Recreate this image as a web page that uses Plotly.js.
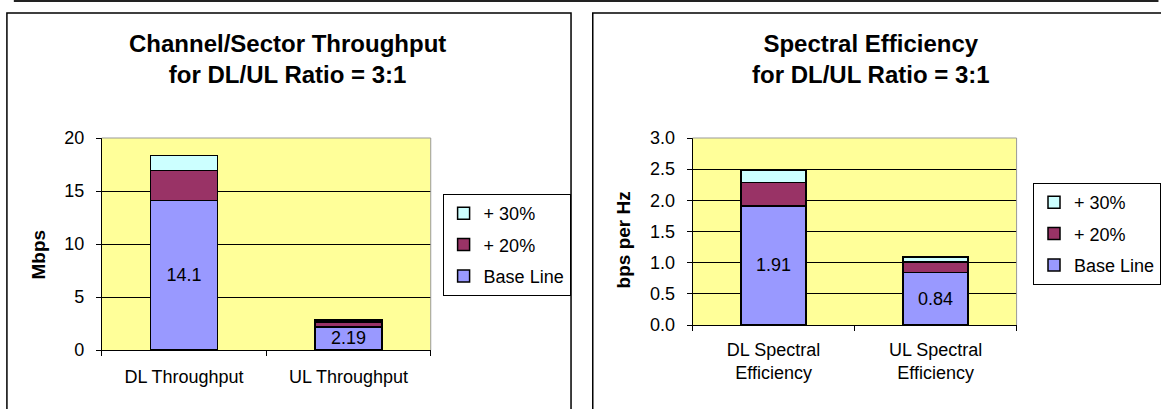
<!DOCTYPE html>
<html>
<head>
<meta charset="utf-8">
<script src="https://cdn.plot.ly/plotly-3.0.1.min.js"></script>
<style>
  html, body { margin: 0; padding: 0; background: #fff; }
  #chart { width: 1161px; height: 409px; }
</style>
</head>
<body>
<div id="chart"></div>
<script>
// ---- Data ----
const seriesNames = ['Base Line', '+ 20%', '+ 30%'];

const throughputCategories = ['DL Throughput', 'UL Throughput'];
const throughputBase = [14.1, 2.19];
const throughputPlus20 = [2.82, 0.44];
const throughputPlus30 = [1.41, 0.22];
const throughputBaseLabels = ['14.1', '2.19'];

const spectralCategories = ['DL Spectral<br>Efficiency', 'UL Spectral<br>Efficiency'];
const spectralBase = [1.91, 0.84];
const spectralPlus20 = [0.38, 0.17];
const spectralPlus30 = [0.19, 0.08];
const spectralBaseLabels = ['1.91', '0.84'];

const throughputTicks = [0, 5, 10, 15, 20];
const spectralTicks = [0, 0.5, 1.0, 1.5, 2.0, 2.5, 3.0];

// ---- Style ----
const FONT = '"Liberation Sans", Arial, sans-serif';
const colors = ['#9999FF', '#993366', '#CCFFFF'];
const W = 1161, H = 409;
const px = v => v / W;
const py = v => (H - v) / H;

function makeTraces(cats, vals, labels, xa, ya, legendId, barWidth) {
  return vals.map((v, i) => ({
    type: 'bar',
    x: cats,
    y: v,
    name: seriesNames[i],
    xaxis: xa,
    yaxis: ya,
    legend: legendId,
    legendgroup: legendId + '_' + i,
    legendrank: 10 - i,
    width: barWidth,
    marker: { color: colors[i], line: { color: '#000', width: 1.5 } },
    text: i === 0 ? labels : undefined,
    textposition: i === 0 ? 'inside' : 'none',
    insidetextanchor: 'middle',
    constraintext: 'none',
    textangle: 0,
    textfont: { family: FONT, size: 18, color: '#000' },
    hoverinfo: 'x+y+name'
  }));
}

const traces = [
  ...makeTraces(throughputCategories, [throughputBase, throughputPlus20, throughputPlus30], throughputBaseLabels, 'x', 'y', 'legend', 0.41),
  ...makeTraces(spectralCategories, [spectralBase, spectralPlus20, spectralPlus30], spectralBaseLabels, 'x2', 'y2', 'legend2', 0.4)
];

const axisFont = { family: FONT, size: 18, color: '#000' };

const yCommon = {
  showline: true, linecolor: '#000', linewidth: 1,
  ticks: 'outside', ticklen: 5, tickcolor: '#000', tickwidth: 1,
  showgrid: true, gridcolor: '#000', gridwidth: 1,
  zeroline: false, fixedrange: true,
  tickfont: axisFont, ticklabelstandoff: 8
};
const xCommon = {
  showline: true, linecolor: '#000', linewidth: 1,
  ticks: 'outside', ticklen: 5, tickcolor: '#000', tickwidth: 1,
  tickson: 'boundaries', showgrid: false, zeroline: false, fixedrange: true,
  tickfont: axisFont, ticklabelstandoff: 10
};

const legendCommon = {
  bgcolor: '#fff', bordercolor: '#000', borderwidth: 1,
  font: { family: FONT, size: 18, color: '#000' },
  traceorder: 'grouped', tracegroupgap: 5,
  xanchor: 'left', yanchor: 'top', itemclick: false, itemdoubleclick: false
};

const frameLine = { color: '#000', width: 1.5 };

const layout = {
  width: W, height: H,
  margin: { l: 0, r: 0, t: 0, b: 0 },
  paper_bgcolor: '#fff',
  plot_bgcolor: '#FFFF99',
  barmode: 'stack',
  showlegend: true,
  font: { family: FONT, color: '#000' },
  xaxis: Object.assign({}, xCommon, { domain: [px(103), px(436)], anchor: 'y' }),
  yaxis: Object.assign({}, yCommon, { domain: [py(350), py(138)], range: [0, 20], tickvals: throughputTicks, anchor: 'x' }),
  xaxis2: Object.assign({}, xCommon, { domain: [px(701), px(1029)], anchor: 'y2', ticklabelstandoff: 8 }),
  yaxis2: Object.assign({}, yCommon, { domain: [py(325), py(138)], range: [0, 3], tickvals: spectralTicks, tickformat: '.1f', anchor: 'x2' }),
  legend: Object.assign({}, legendCommon, { x: px(448), y: py(194) }),
  legend2: Object.assign({}, legendCommon, { x: px(1046), y: py(183) }),
  annotations: [
    { text: '<b>Channel/Sector Throughput<br>for DL/UL Ratio = 3:1</b>', xref: 'paper', yref: 'paper',
      x: px(291), y: py(59), xanchor: 'center', yanchor: 'middle', showarrow: false,
      font: { family: FONT, size: 24, color: '#000' } },
    { text: '<b>Spectral Efficiency<br>for DL/UL Ratio = 3:1</b>', xref: 'paper', yref: 'paper',
      x: px(882), y: py(59), xanchor: 'center', yanchor: 'middle', showarrow: false,
      font: { family: FONT, size: 24, color: '#000' } },
    { text: '<b>Mbps</b>', xref: 'paper', yref: 'paper', x: px(39), y: py(255),
      xanchor: 'center', yanchor: 'middle', textangle: -90, showarrow: false,
      font: { family: FONT, size: 19, color: '#000' } },
    { text: '<b>bps per Hz</b>', xref: 'paper', yref: 'paper', x: px(631), y: py(240),
      xanchor: 'center', yanchor: 'middle', textangle: -90, showarrow: false,
      font: { family: FONT, size: 19, color: '#000' } }
  ],
  shapes: [
    { type: 'rect', xref: 'paper', yref: 'paper', x0: px(7), x1: px(578), y0: -0.05, y1: py(13), line: frameLine, fillcolor: 'rgba(0,0,0,0)' },
    { type: 'rect', xref: 'paper', yref: 'paper', x0: px(600), x1: 1.05, y0: -0.05, y1: py(13), line: frameLine, fillcolor: 'rgba(0,0,0,0)' },
    { type: 'line', xref: 'paper', yref: 'paper', x0: px(14), x1: 1.01, y0: py(1), y1: py(1), line: { color: '#222', width: 2 } },
    { type: 'line', xref: 'x domain', yref: 'y domain', x0: 0, x1: 1, y0: 1, y1: 1, line: { color: '#999', width: 1 }, layer: 'above' },
    { type: 'line', xref: 'x domain', yref: 'y domain', x0: 1, x1: 1, y0: 0, y1: 1, line: { color: '#999', width: 1 }, layer: 'above' },
    { type: 'line', xref: 'x2 domain', yref: 'y2 domain', x0: 0, x1: 1, y0: 1, y1: 1, line: { color: '#999', width: 1 }, layer: 'above' },
    { type: 'line', xref: 'x2 domain', yref: 'y2 domain', x0: 1, x1: 1, y0: 0, y1: 1, line: { color: '#999', width: 1 }, layer: 'above' }
  ]
};

Plotly.newPlot('chart', traces, layout, { displayModeBar: false, staticPlot: true });
</script>
</body>
</html>
